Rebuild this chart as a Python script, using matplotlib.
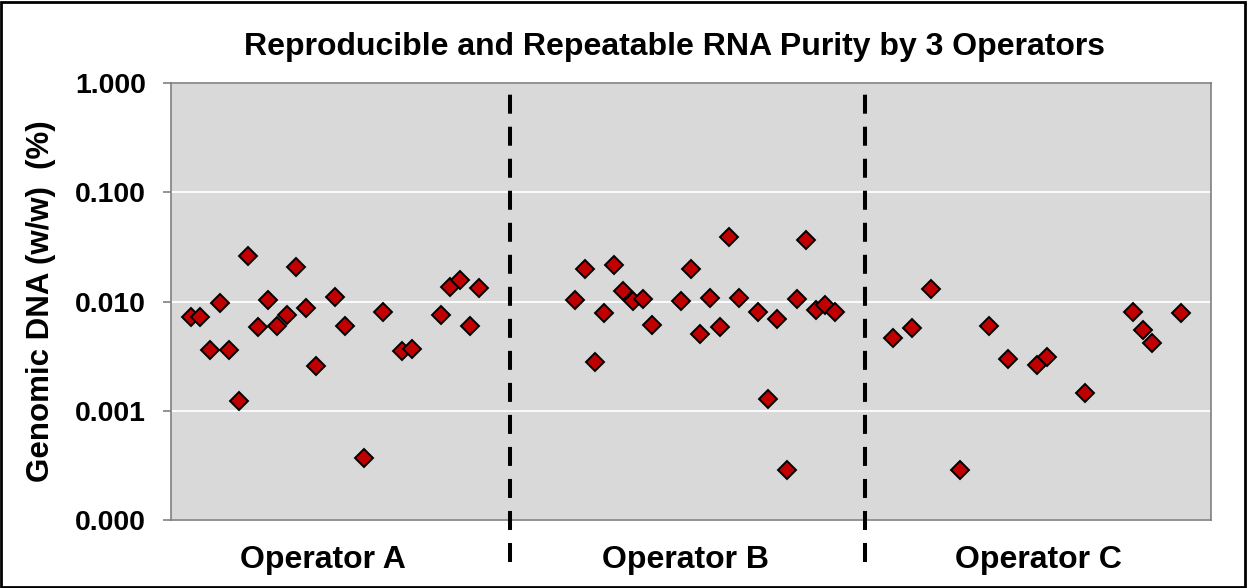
import matplotlib
matplotlib.use("Agg")
import matplotlib.pyplot as plt
from matplotlib.ticker import FixedLocator, FixedFormatter, NullLocator

plt.rcParams['font.family'] = ['Liberation Sans', 'DejaVu Sans']

# ---- data ----
idx_a = [0, 1, 2, 3, 4, 5, 6, 7, 8, 9, 10, 11, 12, 13, 15, 16, 18, 20, 22, 23, 26, 27, 28, 29, 30]
val_a = [0.0072, 0.0072, 0.0036, 0.0097, 0.0036, 0.00124, 0.0264, 0.0059, 0.0104, 0.0060,
         0.0075, 0.0207, 0.0088, 0.00258, 0.0111, 0.0060, 0.00037, 0.0080, 0.0035, 0.0037,
         0.0075, 0.0137, 0.0158, 0.0060, 0.0134]
idx_b = [40, 41, 42, 43, 44, 45, 46, 47, 48, 51, 52, 53, 54, 55, 56, 57, 59, 60, 61, 62, 63, 64, 65, 66, 67]
val_b = [0.0104, 0.0198, 0.0028, 0.0078, 0.0216, 0.0125, 0.0101, 0.0106, 0.0061, 0.0102,
         0.0198, 0.0051, 0.0109, 0.0059, 0.0394, 0.0109, 0.0080, 0.00129, 0.0069, 0.00029,
         0.0106, 0.0367, 0.0083, 0.0093, 0.0081]
idx_c = [73, 75, 77, 80, 83, 85, 88, 89, 93, 98, 99, 100, 103]
val_c = [0.00465, 0.0057, 0.0131, 0.00029, 0.0060, 0.0030, 0.00265, 0.0031, 0.00147, 0.0081,
         0.0055, 0.0042, 0.0079]

categories = ["Operator A", "Operator B", "Operator C"]
category_pos = [13.7, 51.5, 88.2]
separators = [33.25, 70.15]
ytick_vals = [0.0001, 0.001, 0.01, 0.1, 1.0]
ytick_labels = ["0.000", "0.001", "0.010", "0.100", "1.000"]

title = "Reproducible and Repeatable RNA Purity by 3 Operators"
ylabel = "Genomic DNA (w/w)  (%)"

# ---- figure ----
fig = plt.figure(figsize=(12.47, 5.88), dpi=100)
ax = fig.add_axes([171 / 1247, (588 - 520) / 588, (1211 - 171) / 1247, (520 - 83.3) / 588])
ax.set_facecolor("#d9d9d9")

ax.set_yscale("log")
ax.set_ylim(0.0001, 1.0)
ax.set_xlim(-2.05, 106.1)

ax.yaxis.set_major_locator(FixedLocator(ytick_vals))
ax.yaxis.set_major_formatter(FixedFormatter(ytick_labels))
ax.yaxis.set_minor_locator(NullLocator())
ax.grid(axis="y", which="major", color="white", linewidth=1.3)
ax.set_axisbelow(True)

ax.set_xticks(category_pos)
ax.set_xticklabels(categories, fontsize=23, fontweight="bold")
ax.tick_params(axis="x", length=0, pad=18)
ax.tick_params(axis="y", length=6, width=1.2, color="#808080", labelsize=20.5, pad=12)
for lab in ax.get_yticklabels():
    lab.set_fontweight("bold")

for sp in ax.spines.values():
    sp.set_color("#808080")
    sp.set_linewidth(1.2)

for xs, ys in [(idx_a, val_a), (idx_b, val_b), (idx_c, val_c)]:
    ax.plot(xs, ys, linestyle="none", marker="D", markersize=9,
            markerfacecolor="#c00000", markeredgecolor="black", markeredgewidth=1.4, zorder=3)

for s in separators:
    ax.axvline(s, ymin=-0.096, ymax=0.978, color="black", linewidth=2.9,
               linestyle=(0, (4.72, 3.23)), clip_on=False, zorder=4)

ax.set_ylabel(ylabel, fontsize=22.5, fontweight="bold")
ax.yaxis.set_label_coords(-0.111, 0.5)
fig.text(0.541, 1 - 47 / 588, title, ha="center", va="center", fontsize=23, fontweight="bold")

# outer frame
fig.patches.append(plt.Rectangle((0.001, 0.002), 0.997, 0.995, transform=fig.transFigure,
                                 fill=False, edgecolor="black", linewidth=2))

fig.savefig("out.png", dpi=100)
